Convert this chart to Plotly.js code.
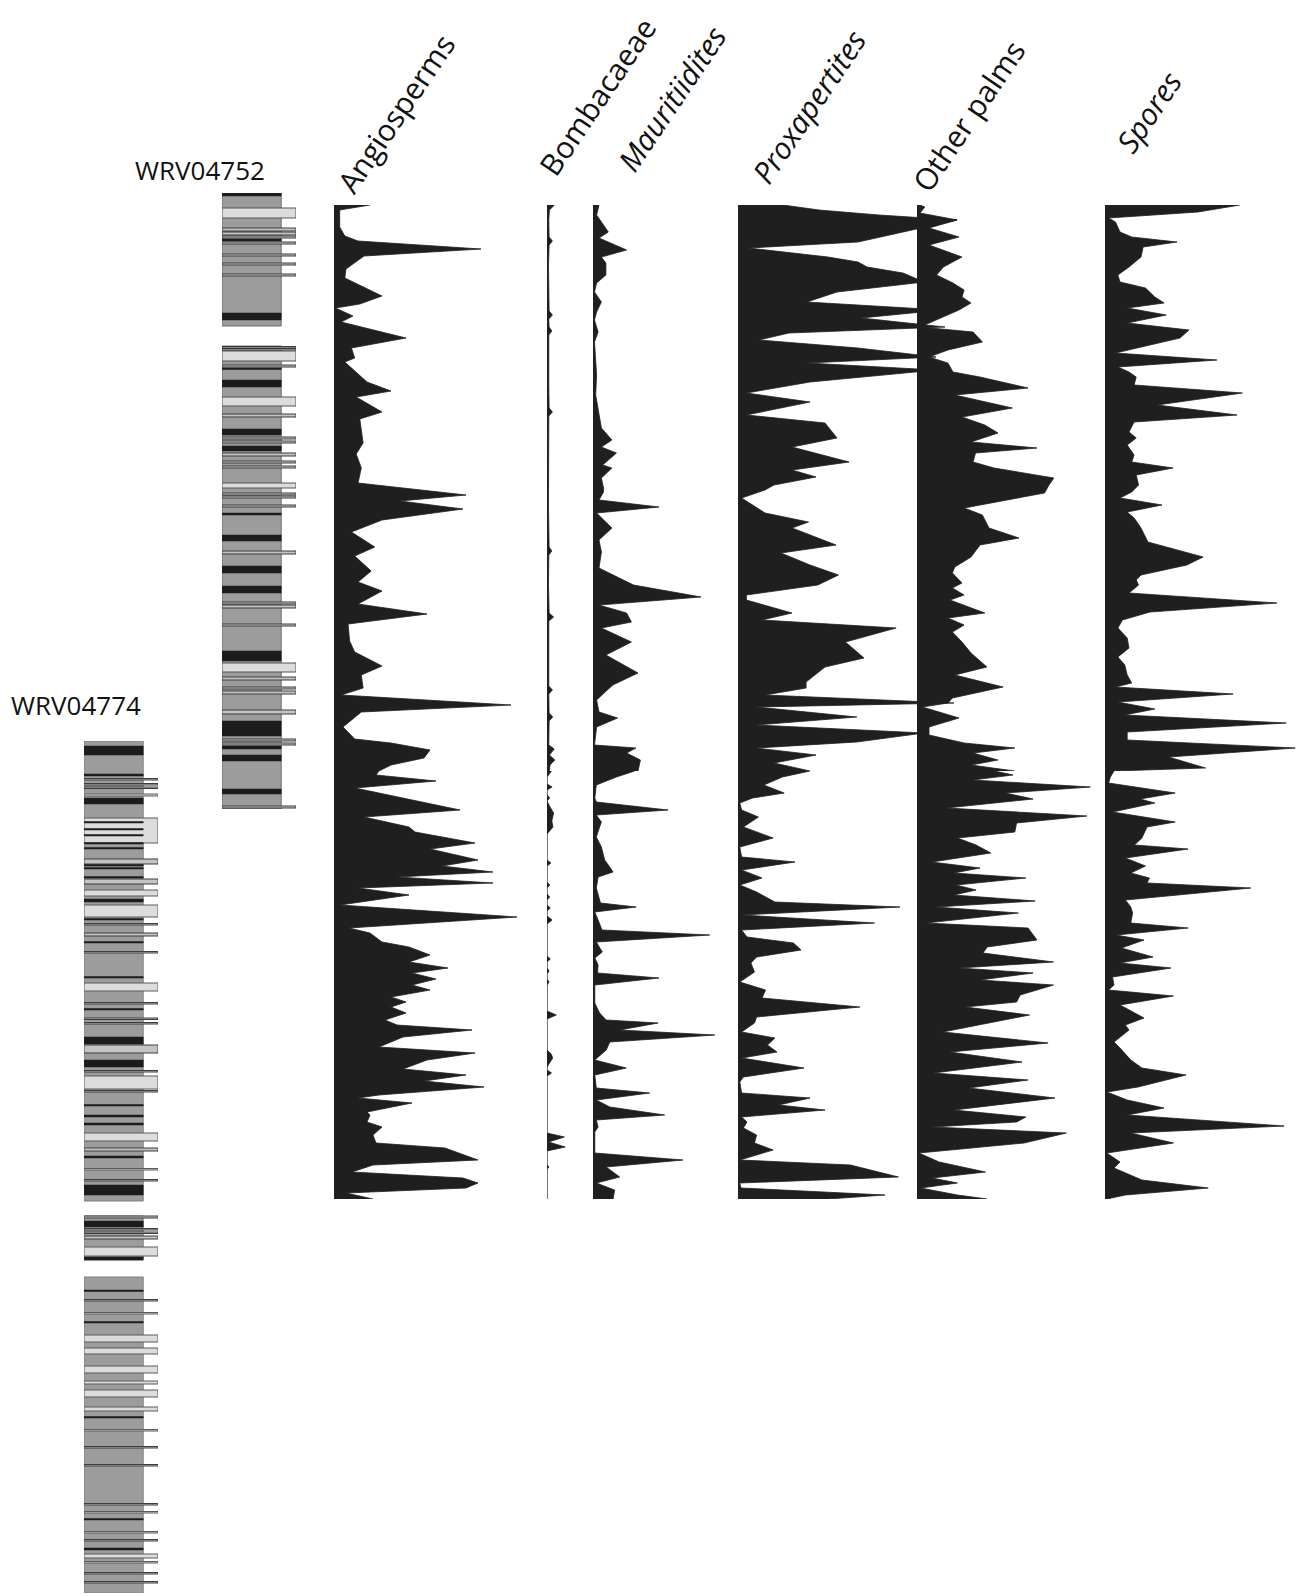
<!DOCTYPE html>
<html>
<head>
<meta charset="utf-8">
<script src="https://cdn.plot.ly/plotly-3.0.1.min.js"></script>
<style>
  html, body { margin: 0; padding: 0; background: #ffffff; }
  #chart { width: 1298px; height: 1596px; }
</style>
</head>
<body>
<div id="chart"></div>
<script>
// ---------- Pollen profiles (depth in m below section top, abundance in %) ----------
// Upper section: WRV04752
const angioUpDepth = [0, 0.5, 2.2, 3.1, 3.6, 4.4, 5.1, 6.4, 7.3, 8.2, 9.1, 9.9, 10.3, 11.1, 11.7, 13.3, 14.3, 15.3, 15.7, 17.7, 18.6, 19.2, 20.7, 21.4, 23.8, 24.9, 26.3, 27.8, 29.0, 29.6, 30.4, 31.5, 32.7, 34.2, 35.1, 36.6, 37.7, 38.6, 39.9, 40.9, 41.9, 43.6, 44.7, 46.1, 47.0, 48.3, 49.0, 50.0, 50.7, 52.2, 53.4, 53.8, 54.5, 55.3, 56.0, 56.6];
const angioUp = [12, 1.9, 1.9, 3.6, 8, 49, 10, 4, 3.6, 10, 16, 8.6, 0.5, 6.3, 2.4, 24, 5.8, 6.9, 3.6, 11, 19, 7.4, 16, 8.6, 9.7, 7.4, 9.1, 8, 44, 22, 43, 16, 5.8, 13.6, 6.9, 12.4, 8, 16, 8, 31, 4.7, 5.2, 6.9, 16, 9.1, 9.7, 2.4, 59, 9.1, 3, 6.9, 19, 32, 30, 19, 15];

const bombUpDepth = [0, 0.5, 1.5, 3.2, 3.6, 4.0, 6.0, 8.0, 10.6, 11.0, 11.4, 12.2, 12.6, 13.0, 16.0, 18.0, 20.3, 20.7, 21.1, 24.0, 27.0, 30.0, 34.2, 34.6, 35.0, 38.0, 40.8, 41.2, 41.6, 45.0, 48.1, 48.5, 48.9, 50.8, 51.2, 51.6, 54.0, 54.4, 55.0, 55.5, 56.0, 56.6];
const bombUp = [2.5, 0.8, 0.6, 0.7, 1.8, 0.7, 0.5, 0.6, 0.7, 1.8, 0.6, 0.7, 1.6, 0.6, 0.5, 0.6, 0.7, 1.8, 0.6, 0.5, 0.6, 0.5, 0.7, 1.6, 0.6, 0.5, 0.7, 2.2, 0.6, 0.5, 0.6, 1.8, 0.6, 0.7, 1.9, 0.7, 0.6, 2.4, 0.8, 2.6, 1.0, 0.8];

const mauUpDepth = [0, 1.0, 2.7, 3.3, 4.5, 5.2, 5.8, 7.0, 7.8, 8.7, 9.7, 10.7, 11.5, 12.7, 13.7, 15.0, 17.0, 19.0, 20.3, 22.3, 23.5, 24.2, 24.8, 26.0, 26.3, 27.3, 28.3, 28.7, 29.5, 30.2, 30.8, 32.3, 33.5, 34.7, 36.3, 37.2, 38.0, 39.2, 40.0, 40.8, 41.7, 42.3, 43.7, 45.0, 46.8, 48.0, 49.5, 50.7, 51.3, 52.2, 54.0, 54.3, 54.8, 55.5, 56.6];
const mauUp = [2, 1.2, 5.1, 2, 11.2, 2.8, 4.3, 4.3, 1.2, 0.5, 2.8, 1.2, 0.5, 1.7, 0.5, 0.8, 1.2, 0.9, 1.7, 2.8, 6.3, 2.8, 7.8, 3.2, 6.3, 2.8, 3.5, 3.5, 2, 22, 1.2, 6.3, 2, 2.8, 2, 8.2, 13.5, 36, 2, 11.2, 12.8, 2.8, 12.8, 4.3, 15, 6.6, 1.2, 2, 8.2, 1.2, 0.5, 14.3, 11.2, 15.8, 15];

const proxUpDepth = [0, 0.5, 1.0, 1.5, 2.7, 3.7, 4.3, 5.2, 5.7, 6.2, 6.8, 7.7, 8.7, 9.7, 10.5, 11.3, 12.2, 12.8, 13.5, 14.3, 15.2, 15.8, 16.5, 17.7, 18.8, 19.7, 21.0, 21.8, 23.3, 24.2, 25.7, 26.5, 27.2, 28.0, 28.5, 29.3, 30.8, 31.7, 32.3, 34.0, 34.8, 36.0, 37.0, 38.0, 39.0, 39.5, 40.8, 41.5, 42.3, 43.7, 45.3, 46.2, 47.7, 48.3, 49.0, 49.8, 50.2, 51.2, 52.0, 52.8, 53.7, 54.3, 55.0, 55.8, 56.6];
const proxUp = [15, 27, 47, 73, 55, 40, 3.5, 30, 40, 43, 55, 62, 33, 23, 68, 41, 69, 17, 7, 40, 66, 23, 66, 24, 2.8, 24, 2.8, 29, 33, 18, 37, 18, 26, 12, 9, 1.2, 9, 23.5, 18, 32.7, 14.3, 24, 33.5, 26.6, 2.8, 2.8, 18, 8, 52.7, 35.8, 42, 29, 22.7, 22.7, 9, 72, 6, 39.6, 6, 62, 39.6, 6, 26, 12, 24];

const palmUpDepth = [0, 0.2, 0.8, 1.5, 2.3, 3.2, 4.0, 5.2, 6.2, 7.0, 7.8, 8.5, 9.2, 9.8, 10.5, 11.8, 12.2, 12.7, 13.7, 14.5, 15.2, 15.8, 16.7, 17.2, 18.3, 19.0, 20.3, 21.2, 22.0, 22.8, 23.7, 24.3, 24.8, 25.7, 26.3, 27.3, 28.0, 28.8, 30.3, 31.0, 32.3, 33.3, 34.0, 35.2, 36.2, 36.8, 37.8, 38.3, 39.0, 39.5, 40.8, 41.3, 42.0, 42.7, 43.7, 44.8, 46.2, 47.0, 48.2, 49.3, 49.8, 50.2, 51.3, 52.2, 53.0, 53.8, 54.3, 54.8, 55.5, 56.0, 56.6];
const palmUp = [1, 2.6, 1, 13.4, 4, 14, 4, 15, 8.8, 6.5, 12, 15.7, 15, 18, 14, 4, 1, 18.7, 21.8, 10.3, 4, 10.3, 12, 21, 37, 12.6, 31.8, 15, 22.6, 27, 18, 40, 19.5, 18.7, 25.7, 45.6, 44, 42.5, 15.7, 21.8, 24, 34, 21, 18, 12.6, 11.8, 15, 11.8, 15.7, 11, 22.6, 10.3, 15.7, 11.8, 15, 18, 23.3, 12.6, 28.7, 11.8, 10.3, 1.8, 14, 4, 4, 15.7, 32.6, 18.7, 27, 18, 32.6];

const sporeUpDepth = [0, 0.7, 1.3, 1.7, 2.7, 3.2, 3.7, 4.2, 5.2, 6.2, 7.0, 7.7, 8.3, 9.2, 9.8, 10.3, 11.0, 11.8, 12.5, 13.3, 14.8, 15.5, 16.2, 16.7, 17.2, 18.0, 18.8, 20.0, 21.0, 21.7, 22.7, 23.3, 24.0, 25.0, 25.7, 26.3, 27.0, 28.0, 28.7, 29.3, 30.0, 30.7, 31.3, 32.3, 33.7, 35.2, 36.0, 37.0, 37.5, 38.0, 38.8, 39.8, 40.7, 41.5, 42.3, 43.3, 44.3, 45.2, 46.0, 47.0, 47.8, 48.2, 48.9, 49.7, 50.4, 51.0, 51.8, 52.7, 53.5, 54.3, 55.2, 56.3, 56.6];
const sporeUp = [45, 31, 1.2, 3.5, 5, 8.9, 24, 12.7, 12, 8, 4.3, 5, 13.5, 16.6, 19.7, 7.4, 20.4, 7.4, 28, 25, 3.5, 37.3, 4.3, 8, 10.4, 9.7, 45.8, 17.4, 44, 9.7, 8, 10.4, 7.4, 9.7, 8.9, 22.7, 10.4, 11.2, 8.9, 5, 19, 7.4, 9.7, 12, 14.3, 32.7, 27.3, 12, 10.4, 11.2, 8, 57.3, 15, 5.8, 4.3, 7.4, 8, 4.3, 6.6, 7.4, 8.9, 3.5, 42.7, 4.3, 16.6, 6.6, 60.4, 7.4, 7.4, 63.4, 21.2, 33.5, 2.8];

// Lower section: WRV04774
const angioLoDepth = [0, 0.4, 1.0, 1.7, 3.9, 4.6, 5.6, 6.1, 7.2, 7.8, 8.9, 9.5, 10.1, 10.6, 11.2, 11.7, 12.4, 13.4, 14.6, 15.7, 16.2, 17.1, 17.6, 18.4, 19.1, 19.7, 20.2, 20.8, 21.4, 21.9, 22.6, 23.1, 23.6, 24.2, 24.9, 25.4, 25.9, 26.6, 27.6, 28.2, 28.9, 29.8, 30.4, 31.0, 31.6, 32.4, 32.7, 33.2, 34.1, 34.4, 35.1, 35.6, 36.4, 37.2, 37.7, 38.9, 39.4, 40.1, 40.7, 41.2, 41.7, 42.2, 42.8];
const angioLo = [15, 14, 34, 7, 42, 10, 25, 27, 47, 32, 48, 36, 53, 21, 53, 8, 25, 2, 61, 5, 12, 16, 25, 32, 25, 38, 26, 34, 26, 32, 19, 24, 19, 24, 17, 21, 46, 23, 15, 47, 31, 23, 44, 30, 50, 15, 8, 26, 11, 12, 11, 16, 13, 14, 37, 48, 13, 6, 43, 48, 44, 4, 13];

const bombLoDepth = [0, 0.6, 1.3, 1.6, 1.9, 2.4, 2.7, 3.0, 3.6, 4.2, 5.0, 5.6, 6.3, 8.9, 9.2, 9.5, 11.1, 11.4, 11.7, 12.3, 12.6, 12.9, 13.4, 13.7, 14.0, 14.5, 14.9, 15.3, 18.5, 18.8, 19.1, 19.7, 20.0, 20.3, 20.8, 21.1, 21.4, 24.0, 24.4, 24.8, 27.9, 28.3, 28.7, 29.1, 29.6, 29.9, 30.2, 30.5, 36.2, 36.6, 37.1, 37.6, 38.0, 39.4, 39.6, 39.8, 42.8];
const bombLo = [1.5, 0, 0, 1.7, 0, 0, 0.9, 0, 1.0, 2.2, 1.6, 2.0, 0, 0, 1.3, 0, 0, 0.9, 0, 0, 0.9, 0, 0, 1.1, 0, 0, 1.7, 0, 0, 1.1, 0, 0, 0.7, 0, 0, 0.7, 0, 0, 3.1, 0, 0, 1.4, 1.9, 1.0, 0, 0, 1.5, 0, 0, 5.8, 0.5, 6.1, 0, 0, 0.7, 0, 0];

const mauLoDepth = [0, 0.6, 1.4, 2.7, 3.1, 3.9, 4.4, 5.1, 5.6, 6.6, 7.6, 8.9, 10.1, 10.6, 11.7, 12.6, 13.2, 13.6, 14.1, 14.9, 15.9, 16.4, 17.1, 18.1, 18.7, 19.4, 20.2, 20.7, 21.4, 23.2, 24.2, 24.9, 25.2, 25.9, 26.4, 27.1, 27.9, 28.9, 29.7, 30.4, 31.7, 32.2, 32.9, 33.6, 34.4, 34.9, 35.6, 36.1, 38.2, 38.9, 39.6, 40.6, 41.2, 41.9, 42.8];
const mauLo = [13.9, 7.8, 1.1, 0.6, 1.1, 25, 1.1, 2.8, 2.2, 1.1, 2.8, 3.9, 6.7, 1.7, 1.1, 2, 2.5, 14.4, 0.6, 1.7, 3, 38.9, 1.1, 3.1, 0.6, 1.7, 1.5, 22, 0.6, 0.6, 2.2, 4.4, 21.7, 8.9, 40.6, 5.6, 4.4, 0.6, 11.1, 0.6, 1.1, 18.9, 1.1, 5.6, 23.9, 1.1, 1.7, 0.6, 0.6, 30, 4.4, 8.9, 1.1, 7.2, 6.7];

const proxLoDepth = [0, 0.6, 1.4, 2.2, 2.7, 3.2, 3.9, 4.6, 5.6, 6.7, 7.6, 8.6, 9.1, 9.9, 10.7, 11.4, 12.1, 13.1, 13.6, 14.4, 15.2, 15.9, 16.6, 17.2, 17.9, 18.6, 19.2, 20.1, 21.1, 21.9, 22.7, 23.6, 24.6, 25.2, 26.1, 26.7, 27.4, 28.1, 28.7, 29.7, 30.6, 31.1, 32.2, 32.7, 33.4, 33.9, 34.6, 35.1, 35.7, 36.4, 37.2, 37.9, 38.9, 39.4, 40.6, 41.2, 41.7, 42.4, 42.8];
const proxLo = [24, 14.8, 8.6, 15.4, 4.9, 0.6, 1.2, 6.8, 1.8, 11.7, 0.6, 1.2, 19, 1.2, 8, 0.6, 6.2, 12.3, 54, 1.2, 45.5, 1.2, 3, 18.5, 21, 6.2, 4.3, 5.5, 0.6, 9.2, 8, 40.6, 6.2, 5.5, 1.2, 12.3, 9.8, 13, 1.2, 22, 1.8, 0.6, 1.2, 24, 13.5, 29, 1.2, 3, 1.8, 6.2, 5.5, 11.7, 0.6, 37.5, 53.5, 0.6, 1, 49, 30];

const palmLoDepth = [0, 0.4, 0.9, 1.6, 2.2, 2.8, 3.7, 4.5, 5.2, 6.1, 6.7, 7.4, 8.2, 9.1, 9.7, 10.2, 10.7, 11.4, 11.9, 12.4, 13.0, 13.6, 14.2, 15.2, 15.7, 16.9, 17.6, 18.2, 19.1, 19.7, 20.2, 20.9, 21.4, 22.4, 23.1, 23.6, 24.4, 26.1, 27.2, 28.1, 29.1, 30.2, 30.9, 31.7, 32.7, 33.9, 34.6, 35.1, 35.6, 36.2, 37.2, 38.2, 39.1, 40.1, 40.7, 41.2, 41.7, 42.4, 42.8];
const palmLo = [25.8, 32, 18.5, 57.8, 29.5, 38.7, 9.8, 56.6, 33.2, 32.6, 13.5, 19.7, 24.6, 4.9, 21, 12.3, 36.3, 13, 19.7, 12.3, 39.4, 6.2, 33.8, 3, 37, 40, 23.4, 22, 45.5, 14, 38.7, 21, 45.5, 34.4, 33.2, 16, 37.5, 8.6, 43.7, 11, 35, 5.5, 37, 17.2, 46, 12.3, 36.3, 33.2, 5, 49.8, 35.7, 0.6, 7.4, 22.8, 5, 13.5, 1.2, 13.5, 23.4];

const sporeLoDepth = [0, 0.6, 1.2, 2.2, 2.8, 3.2, 4.1, 5.1, 5.6, 6.7, 7.4, 7.8, 8.7, 9.5, 10.2, 10.7, 11.2, 11.7, 12.9, 13.6, 14.2, 15.2, 15.7, 16.4, 16.9, 17.7, 18.6, 19.2, 19.7, 20.6, 21.4, 21.9, 22.5, 23.4, 24.7, 25.4, 25.9, 27.1, 27.7, 28.9, 29.7, 30.4, 31.6, 32.1, 32.9, 33.7, 34.4, 35.5, 36.2, 37.2, 38.2, 39.1, 39.7, 40.9, 41.7, 42.4, 42.8];
const sporeLo = [3, 1.8, 1.2, 23.4, 11.7, 16.6, 2.5, 23.4, 14, 12.3, 9.8, 27.7, 6.8, 13.5, 8.6, 14.8, 14, 48.6, 6.8, 8.6, 9.2, 8.6, 27.7, 3.7, 13, 5.5, 16, 5, 22, 2.5, 3, 1.2, 22.8, 5, 13, 6.8, 8, 3, 5, 8.6, 12.3, 27, 11, 0.6, 7.4, 19.7, 7.4, 59.7, 8.6, 22.8, 0.6, 5, 3, 12.3, 34.4, 6.8, 0.6];

const taxa = ['Angiosperms', 'Bombacaeae', 'Mauritiidites', 'Proxapertites', 'Other palms', 'Spores'];
const italicTaxa = ['Mauritiidites', 'Proxapertites', 'Spores'];
const wellNames = ['WRV04752', 'WRV04774'];

// ---------- Lithology logs (depth in m, top / base of each bed) ----------
const w52BodyTop = [0, 15.3];
const w52BodyBase = [13.3, 61.6];
const w52CoalTop = [0, 4.6, 12.0, 17.5, 18.7, 23.6, 25.3, 32.0, 34.2, 37.3, 39.3, 45.8, 52.8, 55.3, 56.2, 59.6];
const w52CoalBase = [0.3, 4.8, 12.7, 17.65, 19.4, 24.2, 25.8, 32.2, 34.8, 38.0, 40.0, 46.8, 54.3, 55.6, 56.8, 60.1];
const w52SandTop = [1.5, 15.8, 20.4, 29.0, 47.0];
const w52SandBase = [2.5, 16.8, 21.3, 29.5, 47.9];
const w52SiltTop = [3.5, 3.9, 4.3, 4.9, 6.1, 7.0, 8.1, 15.35, 15.55, 17.2, 22.1, 24.4, 24.8, 26.0, 26.8, 27.3, 30.0, 30.3, 31.2, 35.8, 40.9, 41.2, 43.1, 48.4, 49.4, 49.8, 51.7, 54.6, 55.0, 61.3];
const w52SiltBase = [3.8, 4.2, 4.5, 5.1, 6.3, 7.2, 8.3, 15.5, 15.7, 17.4, 22.4, 24.6, 25.0, 26.3, 27.0, 27.5, 30.2, 30.5, 31.4, 36.1, 41.1, 41.5, 43.3, 48.7, 49.6, 50.1, 52.1, 54.8, 55.2, 61.5];

const w74BodyTop = [0, 47.5, 53.6];
const w74BodyBase = [46.0, 51.9, 85.2];
const w74CoalTop = [0.5, 3.3, 5.7, 8.05, 8.75, 9.35, 10.15, 10.65, 12.35, 12.65, 13.55, 15.8, 17.75, 20.05, 23.55, 26.75, 29.6, 31.9, 36.35, 37.4, 38.2, 41.5, 44.4, 48.0, 51.6, 54.9, 58.05, 67.55, 77.75, 80.7];
const w74CoalBase = [1.4, 3.5, 6.3, 8.2, 8.9, 9.5, 10.3, 10.8, 12.5, 12.8, 13.7, 16.1, 17.9, 20.2, 23.7, 26.9, 30.3, 32.6, 36.5, 37.6, 38.4, 41.7, 45.4, 48.6, 51.9, 55.05, 58.2, 67.7, 77.9, 80.9];
const w74SandTop = [5.3, 7.7, 14.9, 16.4, 24.2, 33.5, 39.2, 42.75, 50.6, 57.15, 59.4, 60.7, 62.5, 64.0, 64.9, 66.6, 68.85, 77.05, 79.05, 81.3, 82.05];
const w74SandBase = [5.5, 10.2, 15.5, 17.6, 25.0, 34.8, 40.0, 42.9, 51.5, 57.3, 60.1, 61.3, 63.2, 64.3, 65.6, 67.0, 69.0, 77.2, 79.2, 81.7, 82.2];
const w74SiltTop = [3.75, 4.25, 4.6, 11.8, 13.8, 18.25, 19.2, 21.05, 26.15, 27.7, 28.15, 30.4, 32.95, 34.95, 40.7, 43.85, 47.5, 48.75, 49.1, 49.5, 55.85, 70.55, 72.35, 76.25, 79.85, 83.15, 84.05];
const w74SiltBase = [3.9, 4.4, 4.75, 12.3, 14.3, 18.4, 19.5, 21.2, 26.3, 27.85, 28.3, 31.2, 33.1, 35.1, 41.0, 44.0, 47.7, 48.9, 49.25, 49.8, 56.0, 70.7, 72.5, 76.4, 80.0, 83.3, 84.2];

// ---------- Page geometry ----------
const W = 1298, H = 1596;
const fx = p => p / W;          // pixel column -> paper x
const fy = p => 1 - p / H;      // pixel row -> paper y
const INK = '#1f1f1f';
const FONT = 'Open Sans, Noto Sans, sans-serif';

// one x axis per taxon column (3 px per percent), shared by both sections
const columns = [
  { ax: 'x',  left: 334,  max: 62 },
  { ax: 'x2', left: 547,  max: 10 },
  { ax: 'x3', left: 593,  max: 42 },
  { ax: 'x4', left: 738,  max: 75 },
  { ax: 'x5', left: 917,  max: 60 },
  { ax: 'x6', left: 1105, max: 64 }
];
const upper = { ax: 'y',  top: 205, bottom: 771, depth: 56.6 };
const lower = { ax: 'y2', top: 771, bottom: 1199, depth: 42.8 };

function profile(depth, pct, xa, ya) {
  return {
    type: 'scatter', mode: 'lines', x: pct, y: depth, xaxis: xa, yaxis: ya,
    fill: 'tozerox', fillcolor: INK,
    line: { color: INK, width: 0.8 },
    hoverinfo: 'skip', showlegend: false
  };
}

function beds(tops, bases, size, fill, edge, edgeWidth, xa, ya) {
  return {
    type: 'bar', orientation: 'h', xaxis: xa, yaxis: ya,
    y: tops.map((t, i) => (t + bases[i]) / 2),
    width: tops.map((t, i) => bases[i] - t),
    x: tops.map(() => size), base: 0,
    marker: { color: fill, line: { color: edge, width: edgeWidth } },
    hoverinfo: 'skip', showlegend: false
  };
}

const upperSeries = [[angioUpDepth, angioUp], [bombUpDepth, bombUp], [mauUpDepth, mauUp],
                     [proxUpDepth, proxUp], [palmUpDepth, palmUp], [sporeUpDepth, sporeUp]];
const lowerSeries = [[angioLoDepth, angioLo], [bombLoDepth, bombLo], [mauLoDepth, mauLo],
                     [proxLoDepth, proxLo], [palmLoDepth, palmLo], [sporeLoDepth, sporeLo]];

const traces = [];
upperSeries.forEach((s, i) => traces.push(profile(s[0], s[1], columns[i].ax, upper.ax)));
lowerSeries.forEach((s, i) => traces.push(profile(s[0], s[1], columns[i].ax, lower.ax)));

// lithology: mudstone body, sandstone, siltstone stringers, coal
const MUD = '#9c9c9c', SAND = '#dcdcdc', SILT = '#c4c4c4', COAL = '#1c1c1c';
traces.push(beds(w52BodyTop, w52BodyBase, 4, MUD, '#6e6e6e', 1, 'x7', 'y3'));
traces.push(beds(w52SandTop, w52SandBase, 5, SAND, '#555555', 1, 'x7', 'y3'));
traces.push(beds(w52SiltTop, w52SiltBase, 5, SILT, '#3c3c3c', 1, 'x7', 'y3'));
traces.push(beds(w52CoalTop, w52CoalBase, 4, COAL, COAL, 0.5, 'x7', 'y3'));
traces.push(beds(w74BodyTop, w74BodyBase, 4, MUD, '#808080', 1, 'x8', 'y4'));
traces.push(beds(w74SandTop, w74SandBase, 5, SAND, '#5a5a5a', 1, 'x8', 'y4'));
traces.push(beds(w74SiltTop, w74SiltBase, 5, SILT, '#3c3c3c', 1, 'x8', 'y4'));
traces.push(beds(w74CoalTop, w74CoalBase, 4, COAL, COAL, 0.5, 'x8', 'y4'));

// ---------- Axes ----------
const hidden = { visible: false, showgrid: false, zeroline: false, fixedrange: true };
const layout = {
  width: W, height: H,
  margin: { l: 0, r: 0, t: 0, b: 0, pad: 0 },
  paper_bgcolor: '#ffffff', plot_bgcolor: 'rgba(0,0,0,0)',
  barmode: 'overlay', showlegend: false,
  font: { family: FONT, color: '#111111' },
  shapes: [], annotations: []
};
columns.forEach((c, i) => {
  const key = i === 0 ? 'xaxis' : 'xaxis' + (i + 1);
  layout[key] = Object.assign({}, hidden, {
    domain: [fx(c.left), fx(c.left + 3 * c.max)], range: [0, c.max], anchor: 'y'
  });
});
layout.xaxis7 = Object.assign({}, hidden, { domain: [fx(222), fx(296)], range: [0, 5], anchor: 'y3' });
layout.xaxis8 = Object.assign({}, hidden, { domain: [fx(84), fx(158)], range: [0, 5], anchor: 'y4' });
layout.yaxis  = Object.assign({}, hidden, { domain: [fy(upper.bottom), fy(upper.top)], range: [upper.depth, 0], anchor: 'x' });
layout.yaxis2 = Object.assign({}, hidden, { domain: [fy(lower.bottom), fy(lower.top)], range: [lower.depth, 0], anchor: 'x' });
layout.yaxis3 = Object.assign({}, hidden, { domain: [fy(809), fy(193)], range: [61.6, 0], anchor: 'x7' });
layout.yaxis4 = Object.assign({}, hidden, { domain: [fy(1593), fy(741)], range: [85.2, 0], anchor: 'x8' });

// zero lines of every taxon column
[upper, lower].forEach(sec => {
  columns.forEach(c => {
    layout.shapes.push({
      type: 'line', xref: c.ax, yref: sec.ax, x0: 0, x1: 0, y0: 0, y1: sec.depth,
      line: { color: '#8a8a8a', width: 1.3 }, layer: 'below'
    });
  });
});

// rotated column headings (centre positions in pixels)
const headCentre = [[396, 114], [597, 96], [672, 99], [809, 107], [969, 116], [1148, 112]];
taxa.forEach((t, i) => {
  layout.annotations.push({
    text: t, xref: 'paper', yref: 'paper',
    x: fx(headCentre[i][0]), y: fy(headCentre[i][1]),
    xanchor: 'center', yanchor: 'middle', textangle: -56, showarrow: false,
    font: { family: FONT, size: 30, color: '#111111',
            style: italicTaxa.includes(t) ? 'italic' : 'normal' }
  });
});
// well names above the lithology logs
[[wellNames[0], 200, 170], [wellNames[1], 76, 705]].forEach(w => {
  layout.annotations.push({
    text: w[0], xref: 'paper', yref: 'paper', x: fx(w[1]), y: fy(w[2]),
    xanchor: 'center', yanchor: 'middle', showarrow: false,
    font: { family: FONT, size: 26, color: '#111111' }
  });
});

Plotly.newPlot('chart', traces, layout, { staticPlot: true, displayModeBar: false });
</script>
</body>
</html>
